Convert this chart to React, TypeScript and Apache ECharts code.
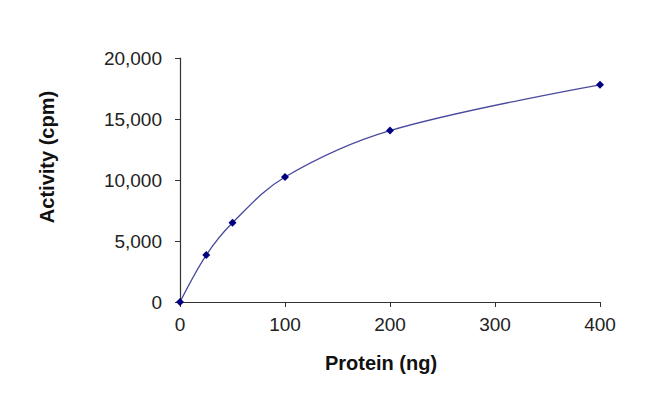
import React, { useEffect, useRef } from "react";
import * as echarts from "echarts";

const proteinNg = [0, 25, 50, 100, 200, 400];
const activityCpm = [0, 3850, 6500, 10250, 14050, 17800];
const xTicks = [0, 100, 200, 300, 400];
const yTicks = [0, 5000, 10000, 15000, 20000];
const xTitle = "Protein (ng)";
const yTitle = "Activity (cpm)";

const FONT = "Liberation Sans, Arial, sans-serif";

export default function App() {
  const ref = useRef<HTMLDivElement>(null);
  useEffect(() => {
    if (!ref.current) return;
    const chart = echarts.init(ref.current, undefined, { renderer: "svg" });
    chart.setOption({
      animation: false,
      backgroundColor: "#ffffff",
      grid: { left: 180, right: 50, top: 58, bottom: 104, containLabel: false },
      xAxis: {
        type: "value",
        min: xTicks[0],
        max: xTicks[xTicks.length - 1],
        interval: xTicks[1] - xTicks[0],
        splitLine: { show: false },
        axisLine: { lineStyle: { color: "#333333", width: 1.2 } },
        axisTick: { show: true, length: 5, inside: false, lineStyle: { color: "#333333" } },
        axisLabel: { color: "#222222", fontSize: 19, fontFamily: FONT, margin: 13 },
      },
      yAxis: {
        type: "value",
        min: yTicks[0],
        max: yTicks[yTicks.length - 1],
        interval: yTicks[1] - yTicks[0],
        splitLine: { show: false },
        axisLine: { show: true, lineStyle: { color: "#333333", width: 1.2 } },
        axisTick: { show: true, length: 5, inside: false, lineStyle: { color: "#333333" } },
        axisLabel: {
          color: "#222222",
          fontSize: 19,
          fontFamily: FONT,
          margin: 18,
          formatter: (v: number) => v.toLocaleString("en-US"),
        },
      },
      series: [
        {
          type: "line",
          data: proteinNg.map((x, i) => [x, activityCpm[i]]),
          smooth: 0.35,
          lineStyle: { color: "#4a4a9e", width: 1.3 },
          symbol: "diamond",
          symbolSize: 8,
          itemStyle: { color: "#000080" },
        },
      ],
      graphic: [
        {
          type: "text",
          x: 381,
          y: 363,
          style: {
            text: xTitle,
            font: `bold 20px ${FONT}`,
            fill: "#111111",
            textAlign: "center",
            textVerticalAlign: "middle",
          },
        },
        {
          type: "text",
          x: 47,
          y: 157,
          rotation: Math.PI / 2,
          style: {
            text: yTitle,
            font: `bold 20px ${FONT}`,
            fill: "#111111",
            textAlign: "center",
            textVerticalAlign: "middle",
          },
        },
      ],
    });
    return () => chart.dispose();
  }, []);
  return <div ref={ref} style={{ width: 650, height: 406, position: "absolute", left: 0, top: 0 }} />;
}
